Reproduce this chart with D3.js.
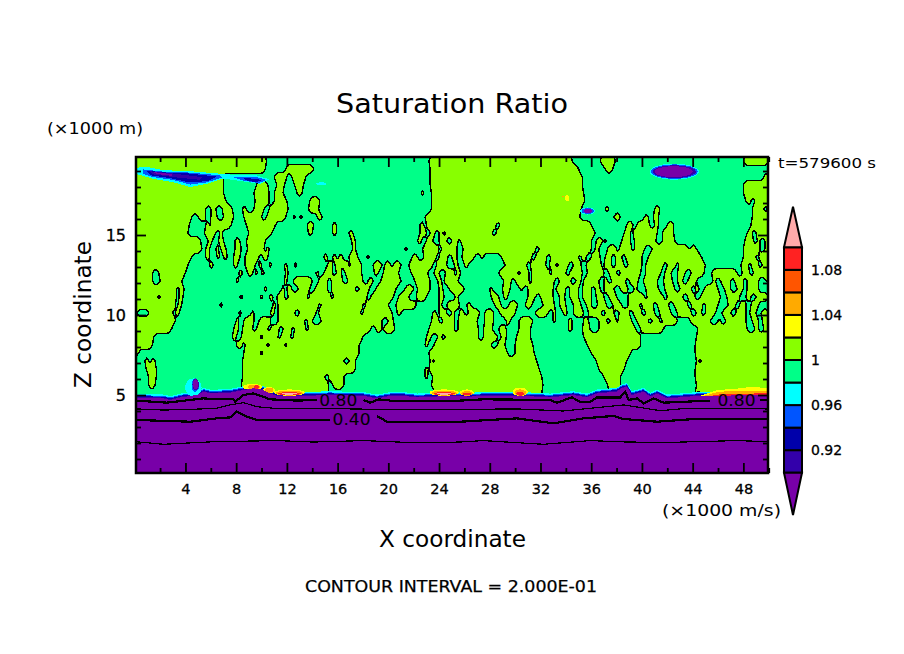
<!DOCTYPE html>
<html>
<head>
<meta charset="utf-8">
<script src="https://d3js.org/d3.v7.min.js"></script>
<style>
  body { margin: 0; background: #fff; }
  text { font-family: "DejaVu Sans", sans-serif; fill: #000; }
</style>
</head>
<body>
<div id="chart"></div>
<script>
// colour levels of the saturation ratio, low to high (under and over included)
var bandLevels = [0.90, 0.92, 0.94, 0.96, 0.98, 1.00, 1.02, 1.04, 1.06, 1.08, 1.10];
var bandColors = ['#7800a8', '#3300aa', '#0000aa', '#0055ff', '#00ffff', '#00ff88',
                  '#88ff00', '#ffff00', '#ffaa00', '#ff5500', '#ff2222', '#ffaaaa'];
var barLabels = [0.92, 0.96, 1, 1.04, 1.08];

var xMajor = [4, 8, 12, 16, 20, 24, 28, 32, 36, 40, 44, 48];
var xMinor = [2, 6, 10, 14, 18, 22, 26, 30, 34, 38, 42, 46, 50];
var yMajor = [5, 10, 15];
var yMinor = [1, 2, 3, 4, 6, 7, 8, 9, 11, 12, 13, 14, 16, 17, 18, 19];

// where the ratio is above 1 (km ranges along x), one row per 0.5 km of height,
// top row first.
var limeRuns = [
  [[0,10.4],[23.2,34.5],[36.7,37.9],[48,50]],
  [[0,10.3],[11.9,14.1],[23.3,35],[37.1,37.7]],
  [[0,7],[11,12],[12.4,13.5],[23.3,35.3],[49.6,50]],
  [[0,7],[9.6,10.5],[11.2,11.8],[12.6,13.3],[23.3,35.3],[48,50]],
  [[0,7],[9.4,10.6],[11,11.7],[12.8,13.2],[22.6,22.8],[23.4,35.4],[48,50]],
  [[0,7.2],[9.5,10.6],[11,12],[13.8,14.6],[23.4,35.5],[48.2,48.6],[48.9,50]],
  [[0,5.6],[6,6.4],[6.9,7.7],[8.5,8.8],[9.4,10.2],[10.6,12.1],[13.7,14.5],[23.4,35.2],[37.1,37.4],[41,41.4],[48.7,49.6],[49.9,50]],
  [[0,4.5],[5,5.6],[6,6.5],[7,7.8],[8.6,10],[10.4,11.9],[12.5,12.7],[13,13.2],[14.4,14.8],[22.9,35.1],[37.8,38.3],[40.2,40.5],[40.9,41.3],[48.7,50]],
  [[0,4.3],[5.6,5.9],[6,7.6],[8.8,11.1],[13.6,14.1],[15.6,15.9],[22.5,22.8],[23,28.5],[28.8,36],[38.8,39.3],[39.6,40.6],[41,41.3],[42,42.5],[48.6,50]],
  [[0,4.2],[5.5,6.4],[6.7,6.9],[9,10.8],[13.7,14],[15.6,15.9],[16.9,17.2],[22.5,23],[23.3,23.7],[24,24.3],[24.5,28.2],[28.5,36.3],[38.6,39.1],[39.3,41.2],[41.6,42.5],[48.3,48.7],[49,50]],
  [[0,5.2],[5.8,6.1],[6.6,7],[7.9,8.3],[8.8,10.3],[17.1,17.4],[22.3,22.6],[23,23.5],[24,24.6],[25,25.5],[25.7,36],[36.4,36.9],[37,37.2],[38.4,39.1],[39.4,41.1],[41.6,42.6],[48.1,48.8],[49.1,49.3],[49.7,50]],
  [[0,5.3],[5.6,5.9],[6.4,6.6],[6.8,7.2],[7.9,8.4],[8.9,10.2],[10.4,10.6],[17.2,17.4],[21.3,21.5],[22.7,24],[24.2,25.4],[25.9,31.6],[31.9,36],[36.3,36.6],[37.3,38],[38.2,39.2],[39.4,40.2],[40.8,43.7],[43.8,44.3],[48,49.3],[49.7,50]],
  [[0,4.5],[5.6,5.9],[6.5,6.7],[7,7.3],[7.8,8.3],[8.7,9.8],[10.1,10.5],[14.9,15.2],[15.6,15.9],[16.1,16.4],[16.9,17.6],[18.3,18.5],[21.9,22.3],[22.8,23.8],[24,24.7],[25,25.4],[25.8,26.8],[27.3,27.5],[28.9,31.3],[31.6,32.5],[32.8,35],[35.2,35.6],[36,36.7],[37.1,37.6],[37.9,38.4],[38.7,40],[40.5,44.7],[48,49],[49.2,50]],
  [[0,4.2],[5.9,6.2],[7.8,8.1],[8.7,9.5],[9.8,10],[10.6,10.8],[11.8,12],[12.6,12.8],[15.2,15.6],[15.8,16.2],[16.3,16.9],[17,17.9],[18.8,19.5],[19.7,20.2],[20.4,21],[21.6,23.5],[23.8,24.6],[25.2,25.5],[26,26.3],[29.2,30.9],[31.2,32.4],[32.7,33.2],[33.4,34.2],[34.6,35.2],[35.6,36.8],[37,37.6],[37.9,38.6],[38.9,40],[40.3,41.7],[42,42.7],[42.9,45],[47.8,48.4],[48.6,49.2],[49.5,50]],
  [[0,1.4],[1.9,4],[8.2,8.5],[8.9,9.3],[9.5,9.7],[10,10.2],[11.9,12.1],[14.3,14.5],[14.9,15.6],[15.9,16.3],[16.6,17.9],[18.9,19.2],[19.6,20.8],[21.8,23.1],[23.6,24],[24.5,25.2],[25.4,25.7],[28.7,30.2],[30.4,31.1],[31.3,32.7],[32.9,34],[34.3,35.3],[35.7,37],[37.4,38],[38.3,39.9],[40.3,41.5],[41.8,42.3],[42.8,43.4],[43.9,44.9],[45.5,47.5],[47.9,48.5],[48.8,50]],
  [[0,1.4],[2,3.7],[8,8.2],[11.8,12],[12.5,14],[14.5,15.2],[15.5,16.4],[16.8,18],[18.4,18.8],[19.4,21],[22.1,23.3],[23.9,24.2],[24.4,25.5],[29.1,29.7],[30,31.1],[31.3,33.1],[33.5,34.4],[34.8,35.2],[35.4,36.6],[37,37.3],[37.6,38.7],[39,39.7],[40.1,41.2],[41.7,42.4],[42.8,43.2],[43.6,44.3],[45.6,45.8],[46.2,47],[47.3,48],[48.3,49.2],[49.8,50]],
  [[0,3.3],[3.5,3.9],[10.2,10.4],[11.6,11.8],[12,12.4],[12.9,13.8],[14.2,15.2],[15.5,17.4],[17.7,18.5],[19,20.6],[21.3,22],[22.3,23.3],[24,24.3],[24.8,26],[28,28.2],[29,29.6],[30.4,30.6],[31,33],[33.2,34],[34.3,35],[35.3,36],[36.3,36.7],[37,37.8],[38.3,38.9],[39.4,39.6],[40.3,41.3],[41.8,42.6],[43,43.9],[44.2,44.5],[44.9,46],[46.5,47],[47.5,48],[48.3,49.2]],
  [[0,1.8],[2,3.3],[3.5,3.8],[8.3,8.5],[9.9,10.1],[10.6,10.9],[11.2,11.8],[12.1,13.6],[13.8,15.5],[15.7,18.3],[18.6,20.4],[20.8,21.6],[22.2,23],[24,24.4],[25.3,25.5],[28.1,28.7],[29.1,29.4],[31,31.6],[32,33],[33.5,33.9],[34.3,35],[35.3,36],[36.4,37],[37.4,38],[38.9,40.2],[40.4,41.7],[42,43.2],[43.6,44.2],[44.6,46.2],[46.7,47.7],[48.2,48.6],[49,50]],
  [[0,3.2],[3.4,3.7],[6.7,6.9],[10.9,11.1],[11.3,14.5],[14.7,18],[18.2,20],[20.6,22.2],[24,24.2],[24.6,25.6],[26.2,26.5],[28.4,28.9],[29.5,30.2],[30.8,31.3],[32.2,33.1],[33.5,34],[34.6,35.2],[35.6,36],[36.5,37.2],[37.7,38.4],[38.9,39.8],[40,40.9],[41.2,42.1],[42.5,43.6],[43.9,44.8],[45,46],[46.8,47.4],[47.7,48.2],[48.6,49.2]],
  [[0,0.2],[1.1,3],[3.2,3.5],[8.2,8.4],[9.2,9.4],[10.7,11],[11.3,12.6],[13,14.3],[14.5,17.8],[18,20.3],[20.7,21],[23.5,23.8],[24,24.6],[25,25.2],[25.6,26],[26.3,27.2],[27.6,28.3],[28.8,30],[31.6,32.6],[33,33.2],[33.8,34.1],[34.6,35.4],[35.8,36.8],[37.1,37.8],[38.2,39],[39.3,40],[40.3,41],[41.4,42.3],[42.8,43.9],[44.3,44.7],[45,45.8],[46.3,47],[47.4,48.2],[48.5,49],[49.4,50]],
  [[0,3.2],[8,8.2],[8.6,9.4],[9.8,10.7],[11.3,13.4],[13.6,14],[14.7,19.5],[20,20.4],[23.4,24],[24.3,25.2],[25.5,27],[27.6,28.3],[29.3,29.6],[30.3,31.4],[33,33.2],[34.2,34.5],[35.4,35.8],[36.6,37.2],[37.5,38],[38.1,39.2],[39.6,40.5],[40.8,41.4],[41.6,42.8],[43.8,45.4],[46,46.2],[46.6,48.2],[48.7,49.2],[49.5,50]],
  [[0,2.9],[7.8,8.2],[8.5,9.3],[9.6,10.5],[10.7,11.4],[11.7,12.4],[12.6,13.5],[13.7,18.6],[19,19.5],[19.6,20.5],[23.2,25.2],[25.5,27.1],[27.5,28.2],[28.7,29.3],[30.3,31.2],[34.2,34.5],[35.3,35.9],[36.6,39.5],[39.9,41.7],[44.4,48.3],[48.9,49.2],[49.6,50]],
  [[0,1.5],[7.7,8],[8.4,9.9],[10.1,11.3],[11.5,12.3],[12.5,18],[23,23.4],[23.9,24.2],[24.5,27.1],[27.5,28.6],[28.9,29.3],[30.1,31.2],[35.4,39.9],[44.3,50]],
  [[0,1.4],[8,8.5],[8.7,10.4],[10.6,11.8],[12,17.7],[22.9,23.1],[23.6,28.1],[28.6,29.2],[30,31.4],[35.7,39.9],[44.2,50]],
  [[0,0.3],[8.6,9.9],[10.1,17.7],[23.2,29.4],[30,31.5],[36,39.1],[44.2,50]],
  [[0.8,1.1],[1.3,1.6],[8.5,16.5],[16.9,17.4],[23.3,23.5],[23.6,31.7],[36.4,38.8],[44.3,44.5],[44.7,50]],
  [[0.9,1.7],[8.5,17.4],[22.9,23.1],[23.2,31.9],[36.6,38.6],[44.2,50]],
  [[1.1,1.7],[8.5,15],[15.3,16.5],[22.9,23.1],[23.5,32.1],[37,38.3],[44.2,50]],
  [[1.1,1.6],[8.4,15.3],[15.6,16.5],[23.4,32.2],[37.3,38.3],[44.3,50]],
  [[8.5,15.3],[23.7,32.1],[37.4,38.3],[44.2,44.4],[44.6,50]],
  [[8.5,15.3],[23.7,32.1],[37.4,38.3],[44.2,44.4],[44.6,50]]
];

// top of the dry layer (ratio below 0.9)
var surfaceX = [0.1, 2.26, 2.8, 3.6, 4.9, 5.42, 5.95, 6.47, 7.53, 8.58, 9.37, 10.16, 10.68, 11.21, 13.3, 15.42, 18.05, 19.1, 20.16, 21.2, 22.26, 24.87, 26.45, 27.5, 30.66, 32.76, 34.6, 35.66, 36.45, 38, 38.4, 38.82, 39.2, 40.13, 40.66, 41.2, 41.98, 44.34, 50];
var surfaceZ = [4.83, 4.79, 4.69, 4.85, 5.0, 5.21, 5.1, 5.1, 5.15, 5.31, 5.42, 5.31, 5.1, 4.94, 4.94, 5.0, 4.94, 4.79, 4.94, 4.94, 4.85, 4.94, 4.9, 4.94, 4.94, 4.85, 5.0, 4.85, 5.1, 5.21, 5.42, 5.52, 5.0, 5.21, 4.9, 5.1, 4.79, 4.94, 5.0];
var surfaceOffsets = [0.24, 0.16, 0.1, 0.05];       // cyan, blue, navy, indigo above the purple
var surfaceBands = [4, 3, 2, 1];

// contour lines inside the dry layer; null leaves the gap for a label
var line80X = [0.1, 2.53, 4.37, 5.42, 6.47, 7.79, 7.92, 8.58, 9.37, 10.68, 12.79, 14.37, 15, 18, 18.05, 18.58, 19.24, 20.16, 22.26, 25.68, 27.5, 32.76, 33.29, 34.48, 35.13, 35.92, 36.45, 38.29, 38.69, 38.95, 39.61, 40.13, 40.92, 41.71, 45.4, 46, 49, 49.34, 50];
var line80Z = [4.65, 4.52, 4.69, 4.79, 4.73, 4.73, 4.58, 5, 5.1, 4.73, 4.65, 4.69, null, null, 4.69, 4.52, 4.73, 4.65, 4.65, 4.65, 4.73, 4.69, 4.52, 4.85, 4.58, 4.58, 4.85, 4.85, 5.21, 4.69, 4.79, 4.48, 4.79, 4.52, 4.65, null, null, 4.69, 4.69];
var line60X = [0.1, 2.26, 4.37, 6.47, 7.53, 8.58, 9.63, 11.21, 15.42, 19.37, 25.68, 30.13, 33.82, 35.92, 38.55, 41.45, 43.29, 50];
var line60Z = [4.13, 4.06, 4.1, 4.17, 4.38, 4.52, 4.27, 4.15, 4.15, 4.1, 4.1, 4.13, 4, 4.17, 4.38, 4.02, 4.15, 4.13];
var line40X = [0.1, 4.37, 6.47, 7.53, 8.05, 8.84, 9.63, 15.42, 16, 19, 19.1, 19.9, 25.68, 30.13, 33.03, 35.4, 37.76, 38.55, 41.2, 43.82, 50];
var line40Z = [3.44, 3.33, 3.54, 3.6, 3.96, 3.65, 3.44, 3.44, null, null, 3.69, 3.33, 3.33, 3.54, 3.23, 3.54, 3.69, 3.5, 3.33, 3.48, 3.52];
var line20X = [0.1, 2.26, 6.2, 11.21, 14.1, 18.05, 22, 25.68, 27.5, 30.13, 32.24, 35.92, 38.82, 42.24, 47.5, 50];
var line20Z = [2.08, 1.92, 2.08, 2.15, 2.06, 2.15, 2.02, 2.06, 2.15, 2.02, 1.92, 2.15, 2.06, 2.04, 2.15, 2.08];
var lineWidths = [2.2, 1.2, 2.2, 1.2];

var labelText = ['0.80', '0.40', '0.80'];
var labelX = [16.05, 17.1, 47.46];
var labelZ = [4.31, 3.13, 4.31];

// small closed patches: band index, centre x, centre z, half width, half height
var patchBand = [4, 3, 1, 0,  4, 3, 0,  4,  7, 8,
                 4, 3, 1, 0,
                 7, 8, 10,  7, 8,  7, 8, 10, 11,  7, 8, 10, 11,  7, 8, 10,  7, 8, 10];
var patchX = [42.55, 42.55, 42.55, 42.5,  35.7, 35.72, 35.75,  14.7,  34.1, 33.8,
              4.62, 4.78, 4.8, 4.8,
              9.3, 9.4, 9.6,  10.6, 10.6,  12.2, 12.2, 12.2, 12.2,  24.4, 24.4, 24.4, 24.4,  26.2, 26.2, 26.2,  30.4, 30.4, 30.4];
var patchZ = [18.96, 18.96, 18.96, 18.96,  16.5, 16.5, 16.5,  18.2,  17.3, 17.4,
              5.47, 5.62, 5.65, 5.67,
              5.5, 5.5, 5.5,  5.3, 5.3,  5.15, 5.12, 5.08, 5.08,  5.15, 5.12, 5.08, 5.08,  5.15, 5.1, 5.07,  5.2, 5.15, 5.08];
var patchRx = [1.95, 1.85, 1.7, 1.5,  0.6, 0.5, 0.35,  0.4,  0.16, 0.09,
               0.65, 0.3, 0.25, 0.2,
               0.75, 0.5, 0.25,  0.5, 0.35,  1.2, 1.05, 0.9, 0.6,  1.15, 1.0, 0.85, 0.6,  0.55, 0.45, 0.35,  0.6, 0.45, 0.3];
var patchRz = [0.5, 0.45, 0.4, 0.34,  0.22, 0.18, 0.12,  0.09,  0.2, 0.06,
               0.57, 0.42, 0.36, 0.3,
               0.2, 0.15, 0.1,  0.2, 0.15,  0.2, 0.16, 0.1, 0.06,  0.2, 0.16, 0.1, 0.06,  0.2, 0.15, 0.08,  0.27, 0.2, 0.12];

// larger outlined patches as x,z polygons
var streakCyan = [[0.1,19.2],[0.95,19.26],[2.26,19.05],[4.37,18.99],[5.95,18.88],[7.53,18.78],[9.63,18.72],[10.6,18.48],[9.89,18.2],[8.58,18.35],[7,18.53],[5.68,18.2],[4.37,17.99],[3.05,18.3],[1.47,18.51],[0.1,18.82]];
var streakBlue1 = [[0.68,19.1],[2.26,18.96],[4.37,18.9],[6.74,18.73],[6.9,18.6],[5.68,18.29],[4.37,18.15],[3.05,18.44],[1.47,18.62],[0.68,18.81]];
var streakBlue2 = [[7.79,18.6],[9.63,18.62],[10.42,18.44],[9.76,18.25],[8.58,18.4]];
var streakNavy1 = [[0.95,19.02],[2.53,18.9],[4.37,18.84],[6.47,18.65],[5.82,18.38],[4.37,18.28],[2.79,18.55],[1.21,18.74]];
var streakNavy2 = [[8.58,18.56],[9.76,18.5],[10,18.4],[9.5,18.29],[8.71,18.44]];
var streakIndigo = [[1.21,18.98],[3.05,18.84],[5.3,18.62],[5.1,18.45],[3.05,18.62],[1.47,18.79]];
var streakPurple = [[1.5,18.93],[2.9,18.8],[2.9,18.7],[1.7,18.82]];
var warmYellow = [[44.4,4.9],[45.9,5.3],[47.8,5.42],[48.6,5.52],[50,5.42],[50,4.8],[44.4,4.8]];
var warmOrange = [[44.7,4.9],[46,5.2],[48,5.28],[50,5.25],[50,4.8],[44.7,4.8]];
var warmRed = [[45,4.9],[46.5,5.08],[50,5.1],[50,4.8],[45,4.8]];
var warmPink = [[46,4.9],[47.5,5],[50,4.98],[50,4.8],[46,4.8]];
var topPolygons = [streakCyan, streakBlue1, streakBlue2, streakNavy1, streakNavy2, streakIndigo, streakPurple];
var topPolygonBands = [4, 3, 3, 2, 2, 1, 0];
var warmPolygons = [warmYellow, warmOrange, warmRed, warmPink];
var warmPolygonBands = [7, 8, 10, 11];

var config = {
    width: 904, height: 654,
    left: 136, right: 768, top: 157, bottom: 473,
    barLeft: 784, barRight: 802, barTop: 247.3, barBottom: 472.7,
    cellX: 0.125, cellZ: 0.5, zTop: 19.875
};

var x = d3.scaleLinear().domain([0.1, 50]).range([config.left, config.left + 49.9 * 12.68]);
var y = d3.scaleLinear().domain([0.125, 19.875]).range([config.bottom, config.top]);
var barY = d3.scaleLinear().domain([0.90, 1.10]).range([config.barBottom, config.barTop]);

var svg = d3.select('#chart').append('svg')
    .attr('width', config.width)
    .attr('height', config.height);

svg.append('clipPath').attr('id', 'frame').append('rect')
    .attr('x', config.left).attr('y', config.top)
    .attr('width', config.right - config.left).attr('height', config.bottom - config.top);

var plot = svg.append('g')
    .attr('clip-path', 'url(#frame)')
    .attr('shape-rendering', 'crispEdges');

// background: just below 1
plot.append('rect')
    .attr('x', config.left).attr('y', config.top)
    .attr('width', config.right - config.left).attr('height', config.bottom - config.top)
    .attr('fill', bandColors[5]);

// turn the rows of runs into a grid holding the distance (km) to the nearest edge,
// so the contour at 0 slants from one row to the next
function buildField() {
    var nx = Math.round(50 / config.cellX);
    var ny = limeRuns.length;
    var values = new Array(nx * ny);
    limeRuns.forEach(function (runs, j) {
        for (var i = 0; i < nx; i++) {
            var cx = (i + 0.5) * config.cellX;
            var d = -0.25;
            runs.forEach(function (run) {
                d = Math.max(d, Math.min(cx - run[0], run[1] - cx));
            });
            values[j * nx + i] = Math.min(d, 0.3);
        }
    });
    return { nx: nx, ny: ny, values: values };
}

var field = buildField();
var contour = d3.contours().size([field.nx, field.ny]).thresholds([0])(field.values)[0];
var gridToPage = d3.geoTransform({
    point: function (gx, gy) {
        this.stream.point(x(gx * config.cellX), y(config.zTop - gy * config.cellZ));
    }
});

plot.append('path')
    .datum(contour)
    .attr('d', d3.geoPath(gridToPage))
    .attr('fill', bandColors[6])
    .attr('stroke', '#000')
    .attr('stroke-width', 1.4)
    .attr('stroke-linejoin', 'round');

// polygons and patches
var polyLine = d3.line()
    .x(function (d) { return x(d[0]); })
    .y(function (d) { return y(d[1]); })
    .curve(d3.curveLinearClosed);

plot.selectAll('.streak')
    .data(topPolygons)
    .enter().append('path')
    .attr('d', polyLine)
    .attr('fill', function (d, i) { return bandColors[topPolygonBands[i]]; });

// dry layer with thin bands along its top
function surfaceArea(offset) {
    return d3.area()
        .x(function (d) { return x(d); })
        .y0(config.bottom)
        .y1(function (d, i) { return y(surfaceZ[i] + offset); })(surfaceX);
}

plot.selectAll('.surfaceBand')
    .data(surfaceOffsets)
    .enter().append('path')
    .attr('d', function (d) { return surfaceArea(d); })
    .attr('fill', function (d, i) { return bandColors[surfaceBands[i]]; });

// warm patches sit over the thin bands but under the purple
plot.selectAll('.warm')
    .data(warmPolygons)
    .enter().append('path')
    .attr('d', polyLine)
    .attr('fill', function (d, i) { return bandColors[warmPolygonBands[i]]; });

plot.selectAll('.patch')
    .data(patchBand)
    .enter().append('ellipse')
    .attr('cx', function (d, i) { return x(patchX[i]); })
    .attr('cy', function (d, i) { return y(patchZ[i]); })
    .attr('rx', function (d, i) { return x(patchRx[i]) - x(0); })
    .attr('ry', function (d, i) { return y(0) - y(patchRz[i]); })
    .attr('fill', function (d) { return bandColors[d]; });

plot.append('path')
    .attr('d', surfaceArea(0))
    .attr('fill', bandColors[0]);

// contour lines
var lineXs = [line80X, line60X, line40X, line20X];
var lineZs = [line80Z, line60Z, line40Z, line20Z];

lineXs.forEach(function (xs, k) {
    var zs = lineZs[k];
    var path = d3.line()
        .defined(function (d, i) { return zs[i] !== null; })
        .x(function (d) { return x(d); })
        .y(function (d, i) { return y(zs[i]); });
    plot.append('path')
        .attr('d', path(xs))
        .attr('fill', 'none')
        .attr('stroke', '#000')
        .attr('stroke-width', lineWidths[k]);
});

plot.selectAll('.lineLabel')
    .data(labelText)
    .enter().append('text')
    .attr('x', function (d, i) { return x(labelX[i]); })
    .attr('y', function (d, i) { return y(labelZ[i]); })
    .attr('text-anchor', 'middle')
    .attr('font-size', 16)
    .attr('textLength', 38)
    .attr('lengthAdjust', 'spacingAndGlyphs')
    .text(function (d) { return d; });

// ticks on all four sides, labels only bottom and left
function tickLayer(axis, transform, labelSize) {
    var g = svg.append('g').attr('transform', transform).call(axis);
    g.select('.domain').remove();
    g.selectAll('line').attr('stroke', '#000').attr('stroke-width', 1.8);
    g.selectAll('text')
        .attr('font-size', labelSize)
        .attr('font-family', '"DejaVu Sans", sans-serif')
        .attr('stroke', '#000')
        .attr('stroke-width', 0.3);
    return g;
}

var atBottom = 'translate(0,' + config.bottom + ')';
var atTop = 'translate(0,' + config.top + ')';
var atLeft = 'translate(' + config.left + ',0)';
var atRight = 'translate(' + config.right + ',0)';

tickLayer(d3.axisBottom(x).tickValues(xMajor).tickSizeInner(-10).tickSizeOuter(0).tickPadding(11), atBottom, 14.5);
tickLayer(d3.axisBottom(x).tickValues(xMinor).tickSizeInner(-5).tickSizeOuter(0).tickFormat(''), atBottom, 14.5);
tickLayer(d3.axisTop(x).tickValues(xMajor).tickSizeInner(-10).tickSizeOuter(0).tickFormat(''), atTop, 14.5);
tickLayer(d3.axisTop(x).tickValues(xMinor).tickSizeInner(-5).tickSizeOuter(0).tickFormat(''), atTop, 14.5);
tickLayer(d3.axisLeft(y).tickValues(yMajor).tickSizeInner(-10).tickSizeOuter(0).tickPadding(10), atLeft, 16);
tickLayer(d3.axisLeft(y).tickValues(yMinor).tickSizeInner(-5).tickSizeOuter(0).tickFormat(''), atLeft, 16);
tickLayer(d3.axisRight(y).tickValues(yMajor).tickSizeInner(-10).tickSizeOuter(0).tickFormat(''), atRight, 16);
tickLayer(d3.axisRight(y).tickValues(yMinor).tickSizeInner(-5).tickSizeOuter(0).tickFormat(''), atRight, 16);

svg.append('rect')
    .attr('x', config.left).attr('y', config.top)
    .attr('width', config.right - config.left).attr('height', config.bottom - config.top)
    .attr('fill', 'none')
    .attr('stroke', '#000')
    .attr('stroke-width', 2.5);

// colour bar
var barMid = (config.barLeft + config.barRight) / 2;
var barCells = d3.pairs(bandLevels);

svg.selectAll('.barCell')
    .data(barCells)
    .enter().append('rect')
    .attr('x', config.barLeft)
    .attr('y', function (d) { return barY(d[1]); })
    .attr('width', config.barRight - config.barLeft)
    .attr('height', function (d) { return barY(d[0]) - barY(d[1]); })
    .attr('fill', function (d, i) { return bandColors[i + 1]; })
    .attr('stroke', '#000')
    .attr('stroke-width', 2);

svg.append('path')
    .attr('d', 'M' + config.barLeft + ',' + config.barTop + 'L' + barMid + ',206.7L' + config.barRight + ',' + config.barTop + 'Z')
    .attr('fill', bandColors[11])
    .attr('stroke', '#000')
    .attr('stroke-width', 2);

svg.append('path')
    .attr('d', 'M' + config.barLeft + ',' + config.barBottom + 'L' + barMid + ',515L' + config.barRight + ',' + config.barBottom + 'Z')
    .attr('fill', bandColors[0])
    .attr('stroke', '#000')
    .attr('stroke-width', 2);

svg.selectAll('.barLabel')
    .data(barLabels)
    .enter().append('text')
    .attr('x', 811)
    .attr('y', function (d) { return barY(d) + 5; })
    .attr('font-size', 14)
    .attr('stroke', '#000')
    .attr('stroke-width', 0.3)
    .text(function (d) { return d; });

// titles and notes
function note(text, px, py, size, length, heavy) {
    return svg.append('text')
        .attr('x', px).attr('y', py)
        .attr('font-size', size)
        .attr('textLength', length)
        .attr('lengthAdjust', 'spacingAndGlyphs')
        .attr('stroke', heavy ? '#000' : 'none')
        .attr('stroke-width', 0.25)
        .text(text);
}

note('Saturation Ratio', 336, 113, 27, 232);
note('(×1000 m)', 47, 134, 16, 96);
note('(×1000 m/s)', 662, 516, 15, 119);
note('t=579600 s', 778, 168, 14, 98);
note('X coordinate', 379, 547, 23, 147);
note('CONTOUR INTERVAL = 2.000E-01', 305, 592, 16, 292, true);

svg.append('text')
    .attr('transform', 'translate(90.5,388) rotate(-90)')
    .attr('font-size', 23)
    .attr('textLength', 147)
    .attr('lengthAdjust', 'spacingAndGlyphs')
    .text('Z coordinate');
</script>
</body>
</html>
